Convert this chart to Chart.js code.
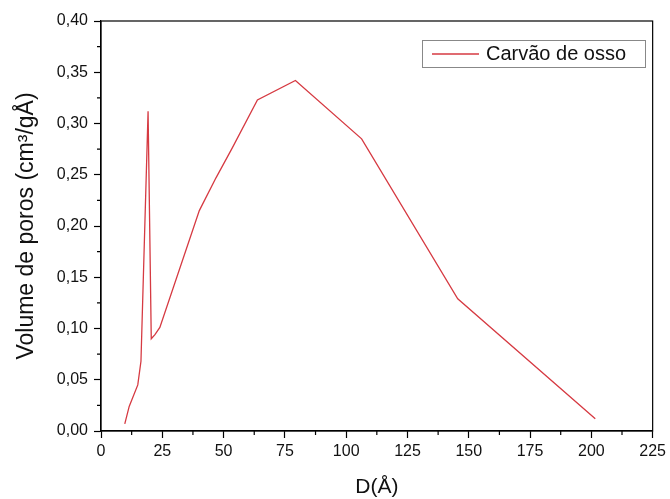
<!DOCTYPE html>
<html>
<head>
<meta charset="utf-8">
<script src="https://cdn.jsdelivr.net/npm/chart.js@4"></script>
<style>
    html, body { margin: 0; padding: 0; background: #fff; }
    #wrap { position: relative; width: 670px; height: 499px; }
</style>
</head>
<body>
<div id="wrap"><canvas id="poreChart" width="670" height="499"></canvas></div>
<script>
// Distribuição de poros - carvão de osso
const diametros = [9.7, 11.5, 15.0, 16.3, 19.2, 20.5, 22.0, 24.0, 40.1, 46.9, 53.5, 63.8, 79.3, 106.3, 145.5, 201.6];
const volumes = [0.007, 0.024, 0.045, 0.068, 0.312, 0.090, 0.094, 0.101, 0.215, 0.247, 0.276, 0.323, 0.342, 0.285, 0.129, 0.012];
const serieNome = 'Carvão de osso';
const xTicks = [0, 25, 50, 75, 100, 125, 150, 175, 200, 225];
const yTicks = [0, 0.05, 0.10, 0.15, 0.20, 0.25, 0.30, 0.35, 0.40];

const fonte = "'Liberation Sans', Arial, sans-serif";

// moldura + ticks menores + legenda
const framePlugin = {
    id: 'frame',
    afterDraw(chart) {
        const { ctx, chartArea: a, scales } = chart;
        ctx.save();
        ctx.strokeStyle = '#000';
        ctx.lineWidth = 1.2;
        ctx.strokeRect(a.left, a.top, a.right - a.left, a.bottom - a.top);

        // minor ticks
        ctx.beginPath();
        for (let i = 0; i < xTicks.length - 1; i++) {
            const px = scales.x.getPixelForValue((xTicks[i] + xTicks[i + 1]) / 2);
            ctx.moveTo(px, a.bottom);
            ctx.lineTo(px, a.bottom + 4);
        }
        for (let i = 0; i < yTicks.length - 1; i++) {
            const py = scales.y.getPixelForValue((yTicks[i] + yTicks[i + 1]) / 2);
            ctx.moveTo(a.left, py);
            ctx.lineTo(a.left - 4, py);
        }
        ctx.stroke();

        // legenda
        const lx = 422, ly = 40, lw = 223, lh = 27;
        ctx.strokeStyle = '#888';
        ctx.lineWidth = 1;
        ctx.strokeRect(lx + 0.5, ly + 0.5, lw, lh);
        ctx.strokeStyle = '#d63a42';
        ctx.lineWidth = 1.3;
        ctx.beginPath();
        ctx.moveTo(lx + 10, ly + lh / 2 + 0.5);
        ctx.lineTo(lx + 57, ly + lh / 2 + 0.5);
        ctx.stroke();
        ctx.fillStyle = '#111';
        ctx.font = '20px ' + fonte;
        ctx.textBaseline = 'middle';
        ctx.fillText(serieNome, lx + 64, ly + lh / 2 + 1);
        ctx.restore();
    }
};

new Chart(document.getElementById('poreChart').getContext('2d'), {
    type: 'scatter',
    data: {
        datasets: [{
            label: serieNome,
            data: diametros.map((d, i) => ({ x: d, y: volumes[i] })),
            showLine: true,
            borderColor: '#d63a42',
            borderWidth: 1.3,
            pointRadius: 0,
            tension: 0
        }]
    },
    options: {
        responsive: false,
        animation: false,
        layout: { padding: { top: 21, right: 14, left: 0, bottom: 0 } },
        plugins: { legend: { display: false }, tooltip: { enabled: false } },
        scales: {
            x: {
                type: 'linear',
                min: 0, max: 225,
                afterBuildTicks: s => { s.ticks = xTicks.map(v => ({ value: v })); },
                afterFit: s => { s.height = 68; },
                border: { display: true, color: '#000', width: 1.2 },
                grid: { drawOnChartArea: false, drawTicks: true, tickLength: 7, color: '#000', tickWidth: 1.2 },
                ticks: { color: '#111', font: { family: fonte, size: 16 }, padding: 4, maxRotation: 0 },
                title: { display: true, text: 'D(Å)', color: '#111', font: { family: fonte, size: 21 }, padding: { top: 4, bottom: -1 } }
            },
            y: {
                min: 0, max: 0.4,
                afterBuildTicks: s => { s.ticks = yTicks.map(v => ({ value: v })); },
                afterFit: s => { s.width = 101; },
                border: { display: true, color: '#000', width: 1.2 },
                grid: { drawOnChartArea: false, drawTicks: true, tickLength: 7, color: '#000', tickWidth: 1.2 },
                ticks: {
                    color: '#111', font: { family: fonte, size: 16 }, padding: 6,
                    callback: v => v.toFixed(2).replace('.', ',')
                },
                title: { display: true, text: 'Volume de poros (cm³/gÅ)', color: '#111', font: { family: fonte, size: 23 }, padding: { top: 13, bottom: 0 } }
            }
        }
    },
    plugins: [framePlugin]
});
</script>
</body>
</html>
